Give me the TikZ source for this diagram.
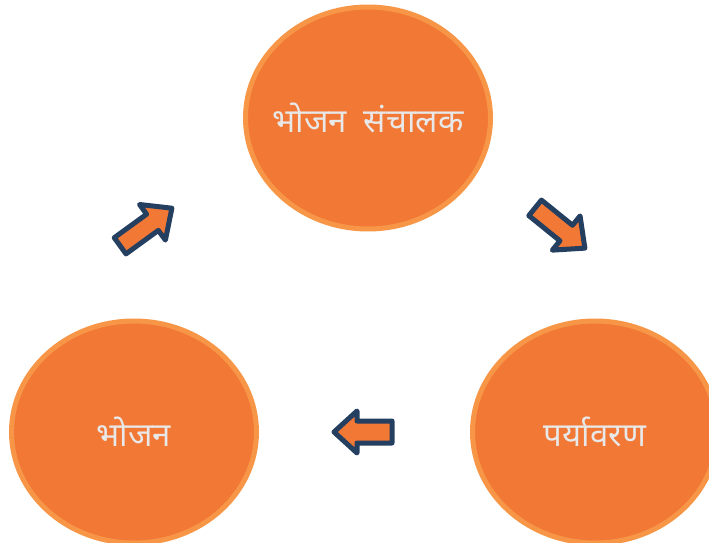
\documentclass[tikz,border=0pt]{standalone}
\usepackage{fontspec}
\newfontfamily\devfont[Script=Devanagari]{Noto Sans}
\usetikzlibrary{shapes.geometric}
\definecolor{orfill}{HTML}{F27836}
\definecolor{orline}{HTML}{F79646}
\definecolor{navy}{HTML}{243F60}
\definecolor{txt}{HTML}{E8E8E8}
\tikzset{
  bubble/.style={ellipse, fill=orfill, draw=orline, line width=5pt, minimum width=245pt, minimum height=222pt, inner sep=0pt},
  bubbletext/.style={text=txt, font=\devfont\fontsize{33}{38}\selectfont},
  bubbletextb/.style={text=txt, font=\devfont\bfseries\fontsize{33}{38}\selectfont},
  blockarrow/.style={fill=orfill, draw=navy, line width=5pt, line join=round}
}
\begin{document}
\begin{tikzpicture}[x=1pt,y=1pt]
\useasboundingbox (0,0) rectangle (709,542);
\clip (0,0) rectangle (709,542);
\node[bubble, label={[bubbletext]center:भोजन\hspace{0.25em} संचालक}] (top) at (368,424) {};
\node[bubble, label={[bubbletextb]center:पर्यावरण}] (right) at (595,110) {};
\node[bubble, label={[bubbletextb]center:भोजन}] (left) at (134,110) {};
% up-right arrow
\begin{scope}[shift={(146,315)}, rotate=36]
\draw[blockarrow] (-32,-10) -- (8,-10) -- (8,-22) -- (32,0) -- (8,22) -- (8,10) -- (-32,10) -- cycle;
\end{scope}
% down-right arrow
\begin{scope}[shift={(560,314)}, rotate=-39]
\draw[blockarrow] (-32,-10) -- (8,-10) -- (8,-22) -- (32,0) -- (8,22) -- (8,10) -- (-32,10) -- cycle;
\end{scope}
% left arrow
\begin{scope}[shift={(363,110)}, rotate=180]
\draw[blockarrow] (-29,-11) -- (6,-11) -- (6,-21) -- (29,0) -- (6,21) -- (6,11) -- (-29,11) -- cycle;
\end{scope}
\end{tikzpicture}
\end{document}
